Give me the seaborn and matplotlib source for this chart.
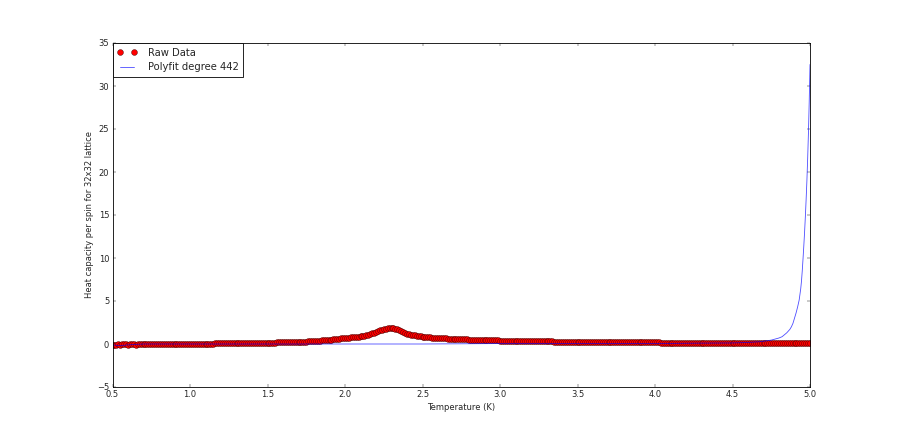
import numpy as np
import matplotlib
matplotlib.use('Agg')
import matplotlib.pyplot as plt
import seaborn as sns

# ─────────────────────────────────────────────
# Data
# ─────────────────────────────────────────────
# Raw heat capacity per spin on a regular temperature grid 0.5 .. 5.0 (step 0.0125)
heat = [
    -0.10,
    # 0.5125 - 0.75
    -0.06, -0.11, -0.04, -0.09, 0.01, -0.05, -0.02, -0.07, 0.00, -0.04,
    0.02, -0.06, -0.01, -0.03, 0.01, -0.05, 0.00, -0.02, 0.01, -0.03,
    # 0.7625 - 1.0
    0.00, -0.02, 0.01, -0.04, 0.00, 0.02, -0.01, -0.03, 0.01, 0.00,
    -0.02, 0.02, 0.00, -0.01, 0.01, 0.02, -0.01, 0.01, 0.02, 0.02,
    # 1.0125 - 1.25
    0.02, 0.03, 0.02, 0.03, 0.03, 0.04, 0.03, 0.04, 0.04, 0.05,
    0.05, 0.05, 0.06, 0.06, 0.06, 0.07, 0.07, 0.07, 0.07, 0.08,
    # 1.2625 - 1.5
    0.08, 0.08, 0.09, 0.09, 0.09, 0.10, 0.10, 0.10, 0.11, 0.11,
    0.11, 0.12, 0.12, 0.12, 0.13, 0.13, 0.14, 0.14, 0.15, 0.15,
    # 1.5125 - 1.75
    0.16, 0.16, 0.17, 0.17, 0.18, 0.18, 0.19, 0.20, 0.20, 0.21,
    0.22, 0.22, 0.23, 0.24, 0.25, 0.26, 0.26, 0.27, 0.28, 0.29,
    # 1.7625 - 2.0
    0.31, 0.32, 0.33, 0.35, 0.36, 0.38, 0.39, 0.41, 0.43, 0.45,
    0.47, 0.49, 0.51, 0.53, 0.56, 0.58, 0.61, 0.64, 0.67, 0.70,
    # 2.0125 - 2.25
    0.72, 0.74, 0.76, 0.78, 0.81, 0.84, 0.87, 0.90, 0.94, 0.98,
    1.03, 1.09, 1.16, 1.24, 1.32, 1.41, 1.50, 1.58, 1.66, 1.73,
    # 2.2625 - 2.5
    1.79, 1.84, 1.87, 1.88, 1.86, 1.80, 1.71, 1.60, 1.49, 1.39,
    1.30, 1.22, 1.15, 1.09, 1.04, 0.99, 0.95, 0.91, 0.88, 0.85,
    # 2.5125 - 2.75
    0.83, 0.81, 0.79, 0.77, 0.75, 0.73, 0.72, 0.70, 0.69, 0.67,
    0.66, 0.64, 0.63, 0.62, 0.61, 0.60, 0.59, 0.58, 0.57, 0.56,
    # 2.7625 - 3.0
    0.55, 0.54, 0.53, 0.52, 0.51, 0.50, 0.50, 0.49, 0.48, 0.47,
    0.46, 0.46, 0.45, 0.44, 0.44, 0.43, 0.42, 0.42, 0.41, 0.40,
    # 3.0125 - 3.25
    0.40, 0.39, 0.39, 0.38, 0.38, 0.37, 0.37, 0.36, 0.36, 0.35,
    0.35, 0.35, 0.34, 0.34, 0.33, 0.33, 0.33, 0.32, 0.32, 0.32,
    # 3.2625 - 3.5
    0.31, 0.31, 0.31, 0.30, 0.30, 0.30, 0.30, 0.29, 0.29, 0.29,
    0.28, 0.28, 0.28, 0.28, 0.27, 0.27, 0.27, 0.27, 0.26, 0.26,
    # 3.5125 - 3.75
    0.26, 0.26, 0.25, 0.25, 0.25, 0.25, 0.24, 0.24, 0.24, 0.24,
    0.24, 0.23, 0.23, 0.23, 0.23, 0.23, 0.22, 0.22, 0.22, 0.22,
    # 3.7625 - 4.0
    0.22, 0.21, 0.21, 0.21, 0.21, 0.21, 0.20, 0.20, 0.20, 0.20,
    0.20, 0.20, 0.19, 0.19, 0.19, 0.19, 0.19, 0.18, 0.18, 0.18,
    # 4.0125 - 4.25
    0.18, 0.18, 0.17, 0.17, 0.17, 0.17, 0.17, 0.17, 0.16, 0.16,
    0.16, 0.16, 0.16, 0.16, 0.15, 0.15, 0.15, 0.15, 0.15, 0.15,
    # 4.2625 - 4.5
    0.14, 0.14, 0.14, 0.14, 0.14, 0.14, 0.14, 0.13, 0.13, 0.13,
    0.13, 0.13, 0.13, 0.13, 0.13, 0.12, 0.12, 0.12, 0.12, 0.12,
    # 4.5125 - 4.75
    0.12, 0.12, 0.12, 0.12, 0.11, 0.11, 0.11, 0.11, 0.11, 0.11,
    0.11, 0.11, 0.11, 0.10, 0.10, 0.10, 0.10, 0.10, 0.10, 0.10,
    # 4.7625 - 5.0
    0.10, 0.10, 0.10, 0.10, 0.10, 0.10, 0.09, 0.09, 0.09, 0.09,
    0.09, 0.09, 0.09, 0.09, 0.09, 0.09, 0.09, 0.09, 0.09, 0.09,
]
temps = np.linspace(0.5, 5.0, len(heat))

# Polynomial fit curve (sampled more densely where it blows up)
fit_T = [0.50, 0.55, 0.60, 0.70, 0.80, 1.00, 1.50, 2.00, 2.50, 3.00, 3.50,
         4.00, 4.30, 4.50, 4.60, 4.68, 4.75, 4.80, 4.82, 4.85, 4.87, 4.88,
         4.89, 4.90, 4.91, 4.92, 4.93, 4.94, 4.945, 4.95, 4.955, 4.96,
         4.965, 4.97, 4.975, 4.98, 4.985, 4.99, 4.995, 5.00]
fit_C = [-0.10, -0.20, -0.10, 0.00, 0.00, 0.00, 0.00, 0.00, 0.00, 0.05, 0.05,
         0.05, 0.10, 0.12, 0.18, 0.27, 0.45, 0.70, 0.85, 1.30, 1.70, 2.00,
         2.40, 3.00, 3.60, 4.30, 5.10, 6.40, 7.30, 8.50, 9.90, 11.40,
         13.00, 14.80, 16.80, 19.00, 21.60, 24.60, 28.20, 32.50]

# ─────────────────────────────────────────────
# Plot (old matplotlib "classic" look, 900x430 at 60 dpi)
# ─────────────────────────────────────────────
sns.set_style("ticks")
plt.rcParams['font.family'] = ['DejaVu Sans']
plt.rcParams['xtick.direction'] = 'in'
plt.rcParams['ytick.direction'] = 'in'

fig = plt.figure(figsize=(15, 43 / 6), dpi=60)
ax = fig.add_axes([0.125, 0.1, 0.775, 0.8])

sns.lineplot(x=temps, y=heat, ax=ax, marker='o', linestyle='none',
             color='red', markersize=7, markeredgecolor='#3a0000',
             markeredgewidth=0.5, label='Raw Data', sort=False)
sns.lineplot(x=fit_T, y=fit_C, ax=ax, color='blue', alpha=0.7,
             linewidth=1, label='Polyfit degree 442', sort=False)

ax.set_xlim(0.5, 5.0)
ax.set_ylim(-5, 35)
ax.set_xticks(np.arange(0.5, 5.01, 0.5))
ax.set_yticks(np.arange(-5, 36, 5))
ax.tick_params(top=True, right=True, length=4, width=0.5, labelsize=10,
               color='black', pad=4)
for sp in ax.spines.values():
    sp.set_color('black')
    sp.set_linewidth(1)

ax.set_xlabel("Temperature (K)", fontsize=10)
ax.set_ylabel("Heat capacity per spin for 32x32 lattice", fontsize=10)

leg = ax.legend(loc='upper left', numpoints=2, borderaxespad=0,
                fancybox=False, framealpha=1, edgecolor='black', fontsize=12,
                handlelength=2, handletextpad=1.1, borderpad=0.45,
                labelspacing=0.5)
leg.get_frame().set_linewidth(1)

plt.savefig("out.png", dpi=60)
